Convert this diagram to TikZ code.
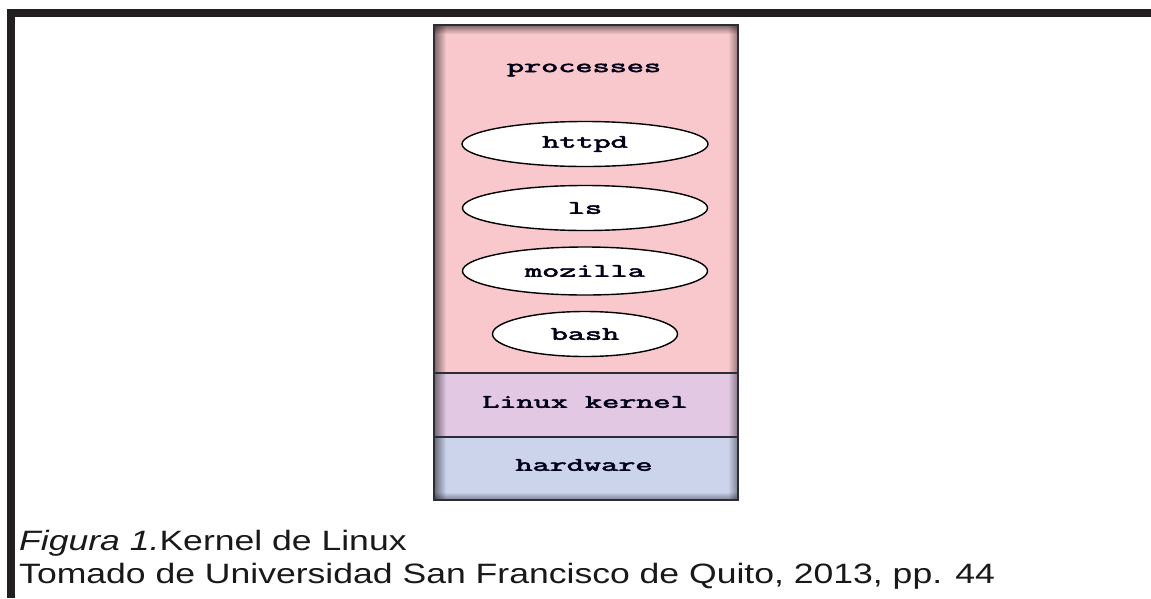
\documentclass[tikz,border=0pt]{standalone}
\usepackage{fontspec}
\setmainfont{Liberation Sans}
\newfontfamily\boxfont[FakeBold=2.5]{Latin Modern Mono}
\usetikzlibrary{shapes.geometric,fadings}

\definecolor{procpink}{RGB}{249,200,204}
\definecolor{kernlila}{RGB}{226,200,226}
\definecolor{hwblue}{RGB}{204,212,236}
\definecolor{framedark}{RGB}{35,31,32}
\definecolor{edgedark}{RGB}{45,45,55}
\tikzset{
  pxgrid/.style={x=1pt,y=-1pt},
  layertext/.style={font=\boxfont\fontsize{19}{19}\selectfont,text=black!90!blue},
  procell/.style={ellipse,draw=black,line width=1.4pt,fill=white,inner sep=0pt,
    layertext,minimum height=45pt},
  capline/.style={anchor=base west,font=\fontsize{28}{28}\selectfont,text=black!90,inner sep=0pt}
}
\newcommand{\wide}[1]{\scalebox{1.75}[1]{#1}}
\newcommand{\capwide}[1]{\scalebox{1.27}[1]{#1}}

\begin{document}
\begin{tikzpicture}[pxgrid]
    \useasboundingbox (0,0) rectangle (1151,598);
    % page frame
    \draw[framedark,line width=8pt] (7,13) -- (1151,13);
    \draw[framedark,line width=8pt] (11,9) -- (11,598);
    % layers
    \fill[procpink] (434,25) rectangle (738,373);
    \fill[kernlila] (434,373) rectangle (738,437);
    \fill[hwblue]   (434,437) rectangle (738,500);
    \fill[black,opacity=0.5,path fading=east] (434,25) rectangle (446,500);
    \fill[black,opacity=0.5,path fading=south] (434,25) rectangle (738,34);
    \fill[black,opacity=0.4,path fading=west] (728,25) rectangle (738,500);
    \fill[black,opacity=0.4,path fading=north] (434,492) rectangle (738,500);
    \draw[edgedark,line width=1.5pt] (434,373) -- (738,373);
    \draw[edgedark,line width=1.5pt] (434,437) -- (738,437);
    \draw[edgedark,line width=2.5pt] (434,25) rectangle (738,500);
    \node[layertext] (proc) at (584,70) {\wide{processes}};
    \node[procell,minimum width=246pt] (httpd) at (585,144) {\wide{httpd}};
    \node[procell,minimum width=245pt] (ls) at (585,208) {\wide{ls}};
    \node[procell,minimum width=245pt,minimum height=48pt] (mozilla) at (585,271) {\wide{mozilla}};
    \node[procell,minimum width=185pt] (bash) at (585,334) {\wide{bash}};
    \node[layertext] (kernel) at (585,402) {\wide{Linux kernel}};
    \node[layertext] (hw) at (584,465) {\wide{hardware}};
    % caption
    \node[capline] (fig) at (19,550) {\capwide{\textit{Figura 1.}Kernel de Linux}};
    \node[capline] (src) at (19,583) {\capwide{Tomado de Universidad San Francisco de Quito, 2013, pp. 44}};
\end{tikzpicture}
\end{document}
